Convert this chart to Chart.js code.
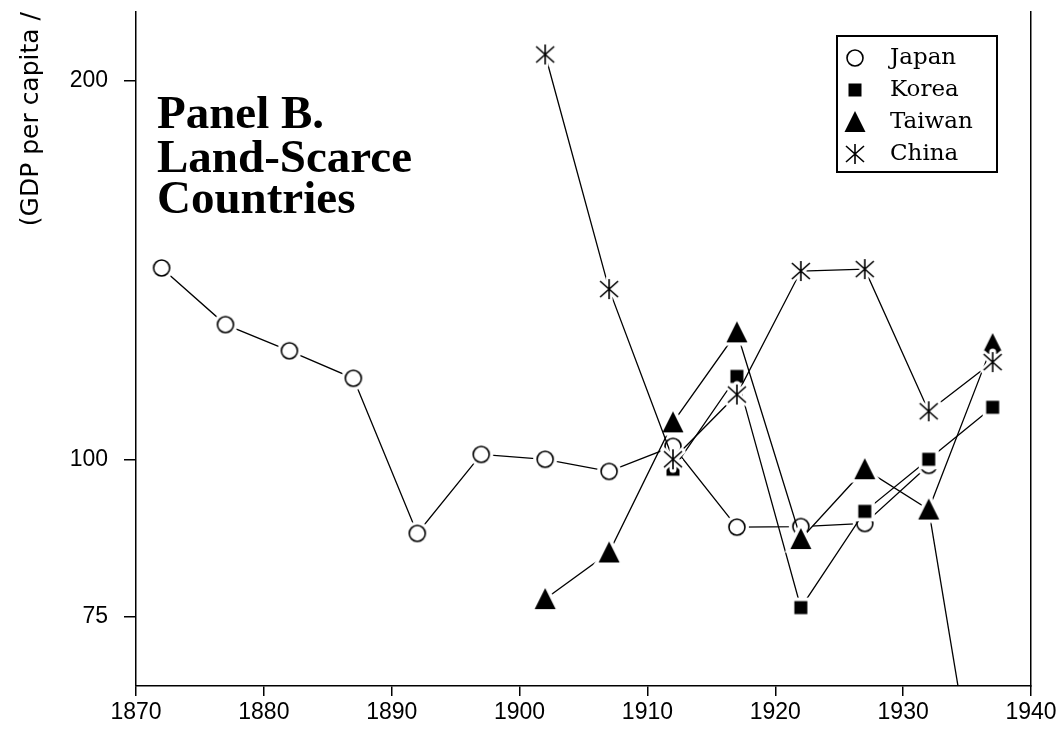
<!DOCTYPE html>
<html>
<head>
<meta charset="utf-8">
<script src="https://cdn.jsdelivr.net/npm/chart.js@4.4.0/dist/chart.umd.min.js"></script>
<style>
  html, body { margin: 0; padding: 0; background: #fff; }
</style>
</head>
<body>
<canvas id="chart-area" width="1062" height="732"></canvas>
<script>
// values (index per period)
const years  = [1872, 1877, 1882, 1887, 1892, 1897, 1902, 1907, 1912, 1917, 1922, 1927, 1932, 1937];
const japan  = [142, 128, 122, 116, 87.3, 100.9, 100, 97.8, 102.4, 88.3, 88.4, 88.9, 98.9, null];
const korea  = [null, null, null, null, null, null, null, null, 98.2, 116.4, 76.2, 90.9, 100, 110];
const taiwan = [null, null, null, null, null, null, 77.4, 84.3, 107.0, 126.2, 86.4, 98.2, 91.2, 123.5];
const china  = [null, null, null, null, null, null, 210, 136.6, 100, 112.6, 141.2, 141.7, 109.2, 119.5];
// stray segment from Taiwan 1932 that runs off the bottom
const taiwanDropYears = [1932, 1937];
const taiwanDrop = [91.2, 45];

const xTicks = [1870, 1880, 1890, 1900, 1910, 1920, 1930, 1940];
const yTicks = [75, 100, 200];
const panelLines = ['Panel B.', 'Land-Scarce', 'Countries'];
const yTitle = '(GDP per capita /';

const tickFont = { family: '"Liberation Sans", sans-serif', size: 23 };

function pairs(xs, ys) {
    return xs.map((x, i) => ({ x: x, y: ys[i] })).filter(p => p.y !== null);
}

// marker bitmaps with a white halo so the lines stop short of them
function marker(kind) {
    const c = document.createElement('canvas');
    c.width = 34; c.height = 34;
    const g = c.getContext('2d');
    const m = 17;
    if (kind === 'circle') {
        g.fillStyle = '#fff';
        g.beginPath(); g.arc(m, m, 12, 0, Math.PI * 2); g.fill();
        g.beginPath(); g.arc(m, m, 8, 0, Math.PI * 2);
        g.fill();
        g.strokeStyle = '#000'; g.lineWidth = 1.6; g.stroke();
    } else if (kind === 'square') {
        g.fillStyle = '#fff';
        g.fillRect(m - 10, m - 10, 20, 20);
        g.fillStyle = '#000';
        g.fillRect(m - 6.5, m - 6.5, 13, 13);
    } else if (kind === 'triangle') {
        const tri = () => {
            g.beginPath();
            g.moveTo(m, m - 11);
            g.lineTo(m + 10.5, m + 10);
            g.lineTo(m - 10.5, m + 10);
            g.closePath();
        };
        tri();
        g.strokeStyle = '#fff'; g.lineWidth = 7; g.stroke();
        g.fillStyle = '#fff'; g.fill();
        tri();
        g.fillStyle = '#000'; g.fill();
    } else if (kind === 'star') {
        const arms = () => {
            g.beginPath();
            g.moveTo(m, m - 10); g.lineTo(m, m + 10);
            g.moveTo(m - 9, m - 8); g.lineTo(m + 9, m + 8);
            g.moveTo(m + 9, m - 8); g.lineTo(m - 9, m + 8);
        };
        arms();
        g.strokeStyle = '#fff'; g.lineWidth = 7; g.lineCap = 'round'; g.stroke();
        arms();
        g.strokeStyle = '#000'; g.lineWidth = 1.6; g.lineCap = 'butt'; g.stroke();
    }
    return c;
}

function series(label, xs, ys, kind, order) {
    return {
        label: label,
        data: pairs(xs, ys),
        borderColor: '#000',
        backgroundColor: '#000',
        borderWidth: 1.3,
        pointStyle: kind ? marker(kind) : false,
        pointRadius: kind ? 10 : 0,
        fill: false,
        tension: 0,
        order: order,
        inLegend: !!kind
    };
}

// no extra padding from tick labels, so the plot box sits where the source has it
function pinScale(s, size) {
    if (s.isHorizontal()) s.height = size; else s.width = size;
    s.paddingTop = 0; s.paddingBottom = 0; s.paddingLeft = 0; s.paddingRight = 0;
}

const panelText = {
    id: 'panelText',
    afterDraw(chart) {
        const ctx = chart.ctx;
        ctx.save();
        ctx.fillStyle = '#000';
        ctx.font = 'bold 47px "Liberation Serif", serif';
        ctx.textBaseline = 'alphabetic';
        const base = [128, 172, 213];
        panelLines.forEach((t, i) => ctx.fillText(t, 157, base[i]));
        // y title, reading bottom to top, cut off at the top like the source
        ctx.translate(31, 12);
        ctx.rotate(-Math.PI / 2);
        ctx.font = '25px "DejaVu Sans", sans-serif';
        ctx.textAlign = 'right';
        ctx.textBaseline = 'middle';
        ctx.fillText(yTitle, 0, 0);
        ctx.restore();
    }
};

const boxLegend = {
    id: 'boxLegend',
    afterDraw(chart) {
        const ctx = chart.ctx;
        const sets = chart.data.datasets.filter(d => d.inLegend);
        ctx.save();
        ctx.strokeStyle = '#000';
        ctx.lineWidth = 2;
        ctx.strokeRect(837, 36, 160, 136);
        ctx.font = '23px "DejaVu Serif", serif';
        ctx.fillStyle = '#000';
        ctx.textBaseline = 'middle';
        sets.forEach((d, i) => {
            const y = 58 + i * 32;
            const img = d.pointStyle;
            ctx.drawImage(img, 855 - img.width / 2, y - img.height / 2);
            ctx.fillText(d.label, 890, y);
        });
        ctx.restore();
    }
};

const ctx = document.getElementById('chart-area').getContext('2d');
new Chart(ctx, {
    type: 'line',
    data: {
        datasets: [
            series('Japan', years, japan, 'circle', 4),
            series('Korea', years, korea, 'square', 3),
            series('Taiwan', years, taiwan, 'triangle', 2),
            series('China', years, china, 'star', 1),
            series('', taiwanDropYears, taiwanDrop, null, 5)
        ]
    },
    options: {
        responsive: false,
        animation: false,
        layout: { padding: { top: 12, right: 31, left: 0, bottom: 0 } },
        plugins: {
            legend: { display: false },
            title: { display: false },
            tooltip: { enabled: false }
        },
        scales: {
            x: {
                type: 'linear',
                min: 1870,
                max: 1940,
                afterBuildTicks: s => { s.ticks = xTicks.map(v => ({ value: v })); },
                afterFit: s => pinScale(s, 46),
                ticks: {
                    color: '#000',
                    font: tickFont,
                    padding: 3,
                    maxRotation: 0,
                    autoSkip: false,
                    callback: v => String(v)
                },
                grid: { drawOnChartArea: false, drawTicks: true, tickLength: 10, color: '#000', lineWidth: 1.5 },
                border: { color: '#000', width: 1.5 }
            },
            y: {
                type: 'logarithmic',
                position: 'left',
                min: 66,
                max: 227,
                afterBuildTicks: s => { s.ticks = yTicks.map(v => ({ value: v })); },
                afterFit: s => pinScale(s, 136),
                ticks: {
                    color: '#000',
                    font: tickFont,
                    padding: 16,
                    callback: v => String(v)
                },
                grid: { drawOnChartArea: false, drawTicks: true, tickLength: 12, color: '#000', lineWidth: 1.5 },
                border: { color: '#000', width: 1.5 }
            },
            y2: {
                type: 'logarithmic',
                position: 'right',
                display: true,
                min: 66,
                max: 227,
                afterBuildTicks: s => { s.ticks = []; },
                afterFit: s => pinScale(s, 0),
                ticks: { display: false },
                grid: { drawOnChartArea: false, drawTicks: false },
                border: { color: '#000', width: 1.5 }
            }
        }
    },
    plugins: [panelText, boxLegend]
});
</script>
</body>
</html>
